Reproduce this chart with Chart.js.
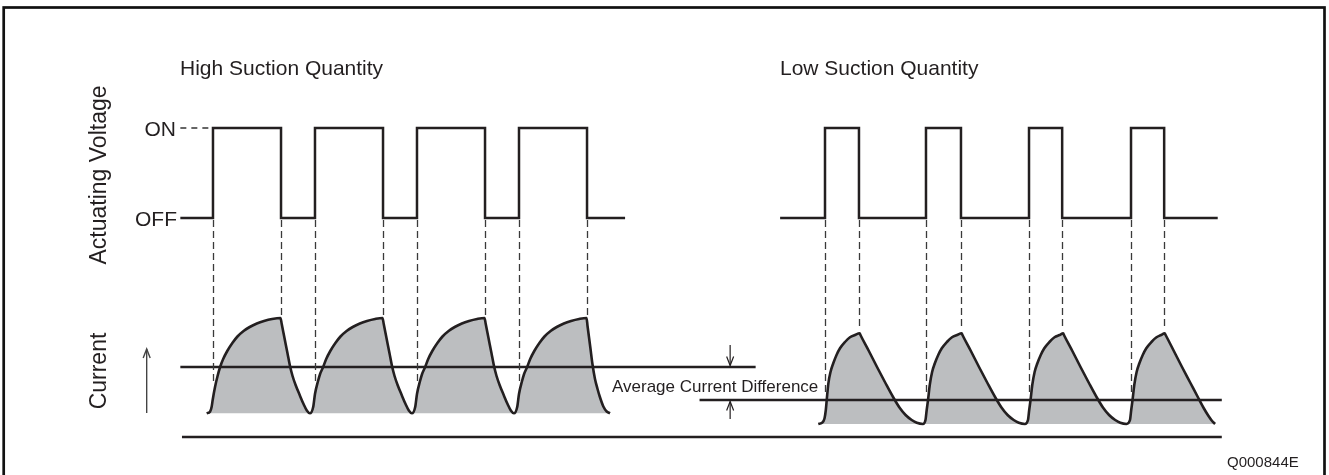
<!DOCTYPE html>
<html>
<head>
<meta charset="utf-8">
<script src="https://cdn.jsdelivr.net/npm/chart.js@4/dist/chart.umd.min.js"></script>
<style>
html,body{margin:0;padding:0;background:#fff;}
#wrap{width:1329px;height:475px;position:relative;}
</style>
</head>
<body>
<div id="wrap"><canvas id="c"></canvas></div>
<script>
// ---------- DATA (time units, voltage 0/1, current units) ----------
const highVoltT = [-3.2, 0, 0, 6.67, 6.67, 10, 10, 16.67, 16.67, 20, 20, 26.67, 26.67, 30, 30, 36.67, 36.67, 40.4];
const highVoltV = [0, 0, 1, 1, 0, 0, 1, 1, 0, 0, 1, 1, 0, 0, 1, 1, 0, 0];
const lowVoltT = [55.6, 60, 60, 63.33, 63.33, 69.9, 69.9, 73.33, 73.33, 80, 80, 83.25, 83.25, 90, 90, 93.25, 93.25, 98.5];
const lowVoltV = [0, 0, 1, 1, 0, 0, 1, 1, 0, 0, 1, 1, 0, 0, 1, 1, 0, 0];
const onLeaderT = [-3.2, 0];
const onLeaderV = [1, 1];

const highCurT = [
  -0.62, -0.29, -0.13, -0.03, 0.2, 0.45, 0.7, 1.0, 1.4, 1.9, 2.4, 3.0, 3.6, 4.3, 5.0, 5.8, 6.62, 6.74, 7.0, 7.3, 7.55, 7.8, 8.1, 8.5, 8.9, 9.2, 9.5,
  9.83, 10.0, 10.3, 10.5, 10.8, 11.1, 11.5, 12.0, 12.5, 13.1, 13.7, 14.4, 15.1, 15.9, 16.62, 16.74, 17.0, 17.3, 17.55, 17.8, 18.1, 18.5, 18.9, 19.2, 19.5,
  19.83, 20.0, 20.3, 20.5, 20.8, 21.1, 21.5, 22.0, 22.5, 23.1, 23.7, 24.4, 25.1, 25.9, 26.62, 26.74, 27.0, 27.3, 27.55, 27.8, 28.1, 28.5, 28.9, 29.2, 29.5,
  29.83, 30.0, 30.3, 30.5, 30.8, 31.1, 31.5, 32.0, 32.5, 33.1, 33.7, 34.4, 35.1, 35.9, 36.62, 36.72, 37.0, 37.2, 37.45, 37.7, 37.9, 38.27, 38.6, 38.92
];
const highCurI = [
  2.37, 2.53, 3.03, 3.7, 5.0, 6.1, 7.0, 7.8, 8.6, 9.4, 10.05, 10.6, 11.0, 11.35, 11.6, 11.8, 11.9, 11.3, 9.95, 8.4, 7.1, 6.1, 5.2, 4.2, 3.25, 2.65, 2.37,
  3.03, 4.3, 5.6, 6.3, 7.0, 7.8, 8.6, 9.4, 10.05, 10.6, 11.0, 11.35, 11.6, 11.8, 11.9, 11.3, 9.95, 8.4, 7.1, 6.1, 5.2, 4.2, 3.25, 2.65, 2.37,
  3.03, 4.3, 5.6, 6.3, 7.0, 7.8, 8.6, 9.4, 10.05, 10.6, 11.0, 11.35, 11.6, 11.8, 11.9, 11.3, 9.95, 8.4, 7.1, 6.1, 5.2, 4.2, 3.25, 2.65, 2.37,
  3.03, 4.3, 5.6, 6.3, 7.0, 7.8, 8.6, 9.4, 10.05, 10.6, 11.0, 11.35, 11.6, 11.8, 11.9, 11.1, 8.9, 7.3, 5.8, 4.8, 4.1, 3.05, 2.55, 2.37
];
const highBase = 2.37;

const lowCurT = [
  59.34, 59.7, 59.95, 60.08, 60.17, 60.33, 60.54, 60.81, 61.13, 61.47, 61.96, 62.45, 62.94, 63.4, 63.5, 64.3, 65.1, 65.9, 66.7, 67.3, 67.9, 68.5, 69.0, 69.6,
  69.85, 69.97, 70.1, 70.27, 70.5, 70.77, 71.1, 71.45, 71.95, 72.45, 72.95, 73.4, 73.5, 74.3, 75.1, 75.9, 76.7, 77.3, 77.9, 78.5, 79.0, 79.6,
  79.9, 80.02, 80.15, 80.32, 80.55, 80.82, 81.15, 81.5, 82.0, 82.5, 83.0, 83.35, 83.45, 84.25, 85.05, 85.85, 86.65, 87.25, 87.85, 88.45, 88.95, 89.55,
  89.9, 90.02, 90.15, 90.32, 90.55, 90.82, 91.15, 91.5, 92.0, 92.5, 92.95, 93.3, 93.42, 94.2, 95.0, 95.8, 96.6, 97.15, 97.6, 97.95, 98.24
];
const lowCurI = [
  1.3, 1.42, 1.85, 2.7, 3.7, 5.37, 6.5, 7.37, 8.2, 8.87, 9.5, 9.97, 10.2, 10.37, 10.15, 8.6, 7.0, 5.45, 3.95, 2.95, 2.2, 1.7, 1.42, 1.3,
  1.7, 2.7, 3.7, 5.2, 6.5, 7.37, 8.2, 8.87, 9.5, 9.97, 10.2, 10.37, 10.15, 8.6, 7.0, 5.45, 3.95, 2.95, 2.2, 1.7, 1.42, 1.3,
  1.7, 2.7, 3.7, 5.2, 6.5, 7.37, 8.2, 8.87, 9.5, 9.97, 10.2, 10.37, 10.15, 8.6, 7.0, 5.45, 3.95, 2.95, 2.2, 1.7, 1.42, 1.3,
  1.7, 2.7, 3.7, 5.2, 6.5, 7.37, 8.2, 8.87, 9.5, 9.97, 10.2, 10.37, 10.15, 8.6, 7.0, 5.45, 3.9, 2.85, 2.1, 1.6, 1.3
];
const lowBase = 1.3;

const highAvgT = [-3.2, 53.2];
const highAvgI = [7.0, 7.0];
const lowAvgT = [47.7, 98.9];
const lowAvgI = [3.7, 3.7];
const zeroT = [-3.04, 98.9];
const zeroI = [0, 0];

// dashed guide lines from voltage edges down to current trace
const riseEdges = [0, 10, 20, 30, 60, 69.9, 80, 90];
const riseDashEndI = [5.4, 5.4, 5.4, 5.4, 4.5, 4.5, 4.5, 4.5];
const fallEdges = [6.67, 16.67, 26.67, 36.67, 63.33, 73.33, 83.25, 93.25];
const fallDashEndI = [11.9, 11.9, 11.9, 11.9, 10.8, 10.8, 10.8, 10.8];

// difference arrows
const diffArrowT = 50.7;
const diffDownI = [9.2, 7.15];
const diffUpI = [1.8, 3.55];
const currentArrowT = -6.5;
const currentArrowI = [2.4, 8.8];

const titles = ["High Suction Quantity", "Low Suction Quantity"];
const levelLabels = ["ON", "OFF"];
const axisLabels = ["Actuating Voltage", "Current"];
const diffLabel = "Average Current Difference";
const figId = "Q000844E";

// ---------- helpers ----------
const zip = (xs, ys) => xs.map((x, i) => ({x: x, y: ys[i]}));
const INK = '#231f20';
const GRAY = '#bcbec0';
const FONT = '"Liberation Sans", Arial, Helvetica, sans-serif';

const lineBase = {showLine: true, pointRadius: 0, borderColor: INK, borderWidth: 2.5, tension: 0, fill: false};

const decor = {
  id: 'decor',
  beforeDraw(chart) {
    const ctx = chart.ctx;
    ctx.save();
    ctx.fillStyle = '#fff';
    ctx.fillRect(0, 0, chart.width, chart.height);
    ctx.restore();
  },
  afterDatasetsDraw(chart) {
    const ctx = chart.ctx;
    const sx = chart.scales.x, sv = chart.scales.yV, si = chart.scales.yI;
    ctx.save();
    // dashed guides
    ctx.strokeStyle = '#3a3a3a';
    ctx.lineWidth = 1.3;
    ctx.setLineDash([7, 4]);
    const y0 = sv.getPixelForValue(0) + 2;
    riseEdges.forEach((t, i) => {
      const x = Math.round(sx.getPixelForValue(t)) + 0.5;
      ctx.beginPath(); ctx.moveTo(x, y0); ctx.lineTo(x, si.getPixelForValue(riseDashEndI[i])); ctx.stroke();
    });
    fallEdges.forEach((t, i) => {
      const x = Math.round(sx.getPixelForValue(t)) + 0.5;
      ctx.beginPath(); ctx.moveTo(x, y0); ctx.lineTo(x, si.getPixelForValue(fallDashEndI[i])); ctx.stroke();
    });
    ctx.setLineDash([]);

    // arrows
    function arrow(x, yFrom, yTo, w) {
      ctx.lineWidth = w;
      ctx.beginPath(); ctx.moveTo(x, yFrom); ctx.lineTo(x, yTo); ctx.stroke();
      const d = yTo > yFrom ? -1 : 1;
      ctx.beginPath();
      ctx.moveTo(x - 3.5, yTo + d * 9); ctx.lineTo(x, yTo); ctx.lineTo(x + 3.5, yTo + d * 9);
      ctx.stroke();
    }
    ctx.strokeStyle = INK;
    const ax = sx.getPixelForValue(diffArrowT);
    arrow(ax, si.getPixelForValue(diffDownI[0]), si.getPixelForValue(diffDownI[1]), 1.2);
    arrow(ax, si.getPixelForValue(diffUpI[0]), si.getPixelForValue(diffUpI[1]), 1.2);
    ctx.strokeStyle = '#444';
    arrow(sx.getPixelForValue(currentArrowT), si.getPixelForValue(currentArrowI[0]), si.getPixelForValue(currentArrowI[1]), 1.4);

    // texts
    ctx.fillStyle = INK;
    ctx.textBaseline = 'alphabetic';
    ctx.textAlign = 'left';
    ctx.font = '21px ' + FONT;
    ctx.fillText(titles[0], 180, 75);
    ctx.fillText(titles[1], 780, 75);
    ctx.textAlign = 'right';
    ctx.fillText(levelLabels[0], 176, sv.getPixelForValue(1) + 8);
    ctx.fillText(levelLabels[1], 177, sv.getPixelForValue(0) + 8);
    ctx.textAlign = 'left';
    ctx.font = '17px ' + FONT;
    ctx.fillText(diffLabel, 612, 392);
    ctx.font = '15px ' + FONT;
    ctx.fillText(figId, 1227, 467);
    // rotated axis labels
    ctx.font = '23px ' + FONT;
    ctx.textAlign = 'center';
    ctx.textBaseline = 'middle';
    [[axisLabels[0], 100, 175], [axisLabels[1], 100, 371]].forEach(([s, x, y]) => {
      ctx.save(); ctx.translate(x, y); ctx.rotate(-Math.PI / 2); ctx.fillText(s, 0, 0); ctx.restore();
    });

    // frame
    ctx.strokeStyle = '#111';
    ctx.lineWidth = 2.7;
    ctx.strokeRect(3.7, 7.5, 1320.8, 520);
    ctx.restore();
  }
};

new Chart(document.getElementById('c'), {
  type: 'scatter',
  data: {
    datasets: [
      Object.assign({}, lineBase, {label: 'highAvg', data: zip(highAvgT, highAvgI), yAxisID: 'yI', order: 1}),
      Object.assign({}, lineBase, {label: 'lowAvg', data: zip(lowAvgT, lowAvgI), yAxisID: 'yI', order: 1}),
      Object.assign({}, lineBase, {label: 'zero', data: zip(zeroT, zeroI), yAxisID: 'yI', order: 1}),
      Object.assign({}, lineBase, {label: 'highCurrent', data: zip(highCurT, highCurI), yAxisID: 'yI', order: 3,
        cubicInterpolationMode: 'monotone', fill: {value: highBase}, backgroundColor: GRAY, borderWidth: 2.6}),
      Object.assign({}, lineBase, {label: 'lowCurrent', data: zip(lowCurT, lowCurI), yAxisID: 'yI', order: 3,
        cubicInterpolationMode: 'monotone', fill: {value: lowBase}, backgroundColor: GRAY, borderWidth: 2.6}),
      Object.assign({}, lineBase, {label: 'highVolt', data: zip(highVoltT, highVoltV), yAxisID: 'yV', order: 2}),
      Object.assign({}, lineBase, {label: 'lowVolt', data: zip(lowVoltT, lowVoltV), yAxisID: 'yV', order: 2}),
      Object.assign({}, lineBase, {label: 'onLeader', data: zip(onLeaderT, onLeaderV), yAxisID: 'yV', order: 2,
        borderDash: [6, 5], borderWidth: 1.5, borderColor: '#333'})
    ]
  },
  options: {
    responsive: true,
    maintainAspectRatio: false,
    animation: false,
    events: [],
    layout: {padding: 0},
    plugins: {legend: {display: false}, tooltip: {enabled: false}},
    scales: {
      x: {type: 'linear', display: false, min: -20.88, max: 109.41},
      yV: {type: 'linear', display: false, min: -2.8556, max: 2.4222},
      yI: {type: 'linear', display: false, min: -3.8, max: 43.7}
    }
  },
  plugins: [decor]
});
</script>
</body>
</html>
